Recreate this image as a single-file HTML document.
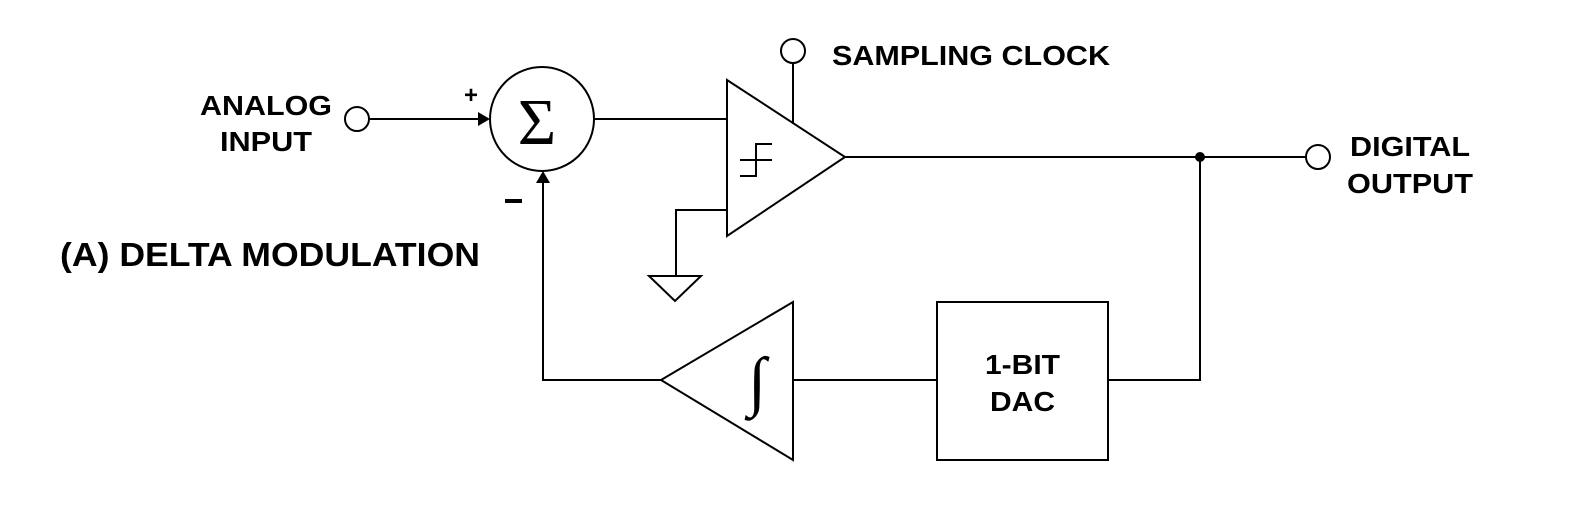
<!DOCTYPE html>
<html><head><style>body{margin:0;background:#fff}</style></head><body>
<svg width="1570" height="502" xmlns="http://www.w3.org/2000/svg" font-family="Liberation Sans, Arial, sans-serif" font-weight="bold">
<g stroke="#000" stroke-width="2" fill="none">
<circle cx="357" cy="119" r="12"/>
<line x1="369" y1="119" x2="478" y2="119"/>
<circle cx="542" cy="119" r="52"/>
<line x1="594" y1="119" x2="727" y2="119"/>
<polygon points="727,80 727,236 845,157"/>
<circle cx="793" cy="51" r="12"/>
<line x1="793" y1="63" x2="793" y2="124"/>
<polyline points="727,210 676,210 676,276"/>
<polygon points="649,276 701,276 675,301"/>
<line x1="845" y1="157" x2="1306" y2="157"/>
<circle cx="1318" cy="157" r="12"/>
<polyline points="1200,157 1200,380 1108,380"/>
<rect x="937" y="302" width="171" height="158"/>
<line x1="793" y1="380" x2="937" y2="380"/>
<polygon points="793,302 793,460 661,380"/>
<polyline points="661,380 543,380 543,181"/>
<polyline points="740,176 756,176 756,144 772,144"/>
<line x1="740" y1="160" x2="772" y2="160"/>
</g>
<polygon points="478,112 490,119 478,126" fill="#000"/>
<polygon points="536,183 543,171 550,183" fill="#000"/>
<circle cx="1200" cy="157" r="5" fill="#000"/>
<text x="537" y="144" font-family="Liberation Serif, serif" font-weight="normal" font-size="66" text-anchor="middle">Σ</text>
<text x="757" y="403" font-family="Liberation Serif, serif" font-weight="normal" font-size="66" text-anchor="middle">∫</text>
<g font-size="28">
<text x="200" y="115" textLength="132" lengthAdjust="spacingAndGlyphs">ANALOG</text>
<text x="220" y="151" textLength="92" lengthAdjust="spacingAndGlyphs">INPUT</text>
<text x="1350" y="156" textLength="120" lengthAdjust="spacingAndGlyphs">DIGITAL</text>
<text x="1347" y="193" textLength="126" lengthAdjust="spacingAndGlyphs">OUTPUT</text>
<text x="985" y="374" textLength="75" lengthAdjust="spacingAndGlyphs">1-BIT</text>
<text x="990" y="411" textLength="65" lengthAdjust="spacingAndGlyphs">DAC</text>
<text x="832" y="65" textLength="278" lengthAdjust="spacingAndGlyphs">SAMPLING CLOCK</text>
</g>
<text x="60" y="266" font-size="33" textLength="420" lengthAdjust="spacingAndGlyphs">(A) DELTA MODULATION</text>
<text x="471" y="103" font-size="24" text-anchor="middle">+</text>
<rect x="505" y="199" width="17" height="4" fill="#000"/>
</svg>
</body></html>
